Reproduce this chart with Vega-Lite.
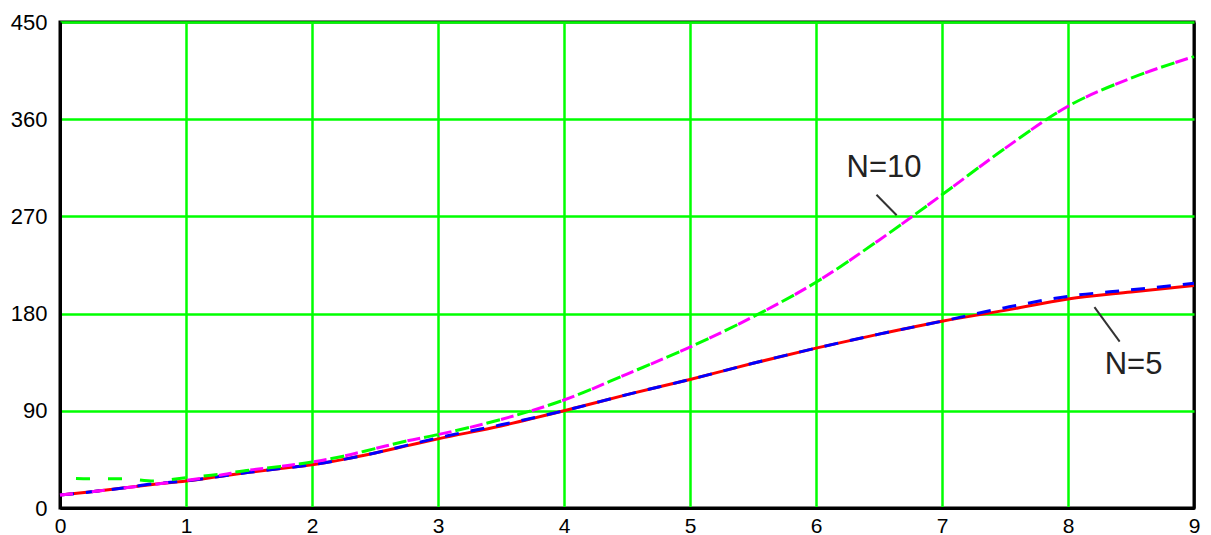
{
  "$schema": "https://vega.github.io/schema/vega-lite/v6.json",
  "width": 1134,
  "height": 486,
  "autosize": {"type": "none"},
  "padding": {"left": 60, "top": 22, "right": 17, "bottom": 27},
  "background": "white",
  "config": {"view": {"stroke": "black", "strokeWidth": 3}},
  "datasets": {
    "curves": [
      {"s": "red", "x": 0, "y": 12}, {"s": "red", "x": 0.25, "y": 15}, {"s": "red", "x": 0.5, "y": 18.5}, {"s": "red", "x": 0.75, "y": 22},
      {"s": "red", "x": 1, "y": 25}, {"s": "red", "x": 1.25, "y": 29}, {"s": "red", "x": 1.5, "y": 33}, {"s": "red", "x": 1.75, "y": 36.5},
      {"s": "red", "x": 2, "y": 40}, {"s": "red", "x": 2.25, "y": 45}, {"s": "red", "x": 2.5, "y": 51}, {"s": "red", "x": 2.75, "y": 57.5},
      {"s": "red", "x": 3, "y": 64}, {"s": "red", "x": 3.5, "y": 76}, {"s": "red", "x": 4, "y": 90},
      {"s": "red", "x": 4.5, "y": 105}, {"s": "red", "x": 5, "y": 119}, {"s": "red", "x": 5.5, "y": 134}, {"s": "red", "x": 6, "y": 148},
      {"s": "red", "x": 6.5, "y": 161}, {"s": "red", "x": 7, "y": 173}, {"s": "red", "x": 7.5, "y": 183}, {"s": "red", "x": 8, "y": 193.5},
      {"s": "red", "x": 8.5, "y": 200}, {"s": "red", "x": 9, "y": 206},
      {"s": "blue", "x": 0, "y": 12}, {"s": "blue", "x": 0.25, "y": 15}, {"s": "blue", "x": 0.5, "y": 18.5}, {"s": "blue", "x": 0.75, "y": 22.5},
      {"s": "blue", "x": 1, "y": 25}, {"s": "blue", "x": 1.25, "y": 29}, {"s": "blue", "x": 1.5, "y": 33}, {"s": "blue", "x": 1.75, "y": 36.5},
      {"s": "blue", "x": 2, "y": 40}, {"s": "blue", "x": 2.25, "y": 45}, {"s": "blue", "x": 2.5, "y": 51}, {"s": "blue", "x": 2.75, "y": 58},
      {"s": "blue", "x": 3, "y": 65}, {"s": "blue", "x": 3.5, "y": 77}, {"s": "blue", "x": 4, "y": 90},
      {"s": "blue", "x": 4.5, "y": 105}, {"s": "blue", "x": 5, "y": 119}, {"s": "blue", "x": 5.5, "y": 134}, {"s": "blue", "x": 6, "y": 148},
      {"s": "blue", "x": 6.5, "y": 161}, {"s": "blue", "x": 7, "y": 173}, {"s": "blue", "x": 7.5, "y": 185.5}, {"s": "blue", "x": 8, "y": 196},
      {"s": "blue", "x": 8.5, "y": 202}, {"s": "blue", "x": 9, "y": 208},
      {"s": "green", "x": 0, "y": 28}, {"s": "green", "x": 0.25, "y": 27}, {"s": "green", "x": 0.5, "y": 27}, {"s": "green", "x": 0.75, "y": 25},
      {"s": "green", "x": 1, "y": 28}, {"s": "green", "x": 1.25, "y": 31}, {"s": "green", "x": 1.5, "y": 35}, {"s": "green", "x": 1.75, "y": 38.5},
      {"s": "green", "x": 2, "y": 42.5}, {"s": "green", "x": 2.25, "y": 48}, {"s": "green", "x": 2.5, "y": 55}, {"s": "green", "x": 2.75, "y": 62},
      {"s": "green", "x": 3, "y": 68}, {"s": "green", "x": 3.5, "y": 82}, {"s": "green", "x": 4, "y": 100},
      {"s": "green", "x": 4.5, "y": 124}, {"s": "green", "x": 5, "y": 149}, {"s": "green", "x": 5.5, "y": 177}, {"s": "green", "x": 6, "y": 209},
      {"s": "green", "x": 6.5, "y": 248}, {"s": "green", "x": 7, "y": 290}, {"s": "green", "x": 7.5, "y": 333}, {"s": "green", "x": 8, "y": 372},
      {"s": "green", "x": 8.5, "y": 398}, {"s": "green", "x": 9, "y": 418},
      {"s": "magenta", "x": 0, "y": 12}, {"s": "magenta", "x": 0.25, "y": 15}, {"s": "magenta", "x": 0.5, "y": 18.5}, {"s": "magenta", "x": 0.75, "y": 22},
      {"s": "magenta", "x": 1, "y": 25.5}, {"s": "magenta", "x": 1.25, "y": 30}, {"s": "magenta", "x": 1.5, "y": 35}, {"s": "magenta", "x": 1.75, "y": 38.5},
      {"s": "magenta", "x": 2, "y": 42.5}, {"s": "magenta", "x": 2.25, "y": 48}, {"s": "magenta", "x": 2.5, "y": 55}, {"s": "magenta", "x": 2.75, "y": 62},
      {"s": "magenta", "x": 3, "y": 68}, {"s": "magenta", "x": 3.5, "y": 82}, {"s": "magenta", "x": 4, "y": 100},
      {"s": "magenta", "x": 4.5, "y": 124}, {"s": "magenta", "x": 5, "y": 149}, {"s": "magenta", "x": 5.5, "y": 177}, {"s": "magenta", "x": 6, "y": 209},
      {"s": "magenta", "x": 6.5, "y": 248}, {"s": "magenta", "x": 7, "y": 290}, {"s": "magenta", "x": 7.5, "y": 333}, {"s": "magenta", "x": 8, "y": 372},
      {"s": "magenta", "x": 8.5, "y": 398}, {"s": "magenta", "x": 9, "y": 418}
    ],
    "labels": [
      {"x": 6.54, "y": 315, "label": "N=10"},
      {"x": 8.52, "y": 132, "label": "N=5"}
    ],
    "leaders": [
      {"x": 6.48, "y": 290, "x2": 6.64, "y2": 271},
      {"x": 8.21, "y": 186, "x2": 8.41, "y2": 154}
    ]
  },
  "encoding": {
    "x": {
      "field": "x", "type": "quantitative",
      "scale": {"domain": [0, 9], "nice": false, "zero": false},
      "axis": {
        "values": [0, 1, 2, 3, 4, 5, 6, 7, 8, 9],
        "title": null, "grid": true,
        "gridColor": {"condition": {"test": "datum.value == 0 || datum.value == 9", "value": "black"}, "value": "#00ff00"},
        "gridWidth": 2.5, "gridOpacity": 1,
        "domainColor": "black", "domainWidth": 3,
        "ticks": false, "labelPadding": 7, "labelFlush": false, "labelAngle": 0,
        "labelFont": "Liberation Sans", "labelFontSize": 21, "labelColor": "black"
      }
    },
    "y": {
      "field": "y", "type": "quantitative",
      "scale": {"domain": [0, 450], "nice": false, "zero": false},
      "axis": {
        "values": [0, 90, 180, 270, 360, 450],
        "title": null, "grid": true,
        "gridColor": {"condition": {"test": "datum.value == 0", "value": "black"}, "value": "#00ff00"},
        "gridWidth": 2.5, "gridOpacity": 1,
        "domainColor": "black", "domainWidth": 3,
        "ticks": false, "labelPadding": 13, "labelFlush": false,
        "labelFont": "Liberation Sans", "labelFontSize": 22, "labelColor": "black"
      }
    }
  },
  "layer": [
    {
      "data": {"name": "curves"},
      "transform": [{"filter": "datum.s == 'red'"}],
      "mark": {"type": "line", "color": "#ff0000", "strokeWidth": 3, "interpolate": "monotone"}
    },
    {
      "data": {"name": "curves"},
      "transform": [{"filter": "datum.s == 'blue'"}],
      "mark": {"type": "line", "color": "#0000ff", "strokeWidth": 3, "interpolate": "monotone", "strokeDash": [14, 12]}
    },
    {
      "data": {"name": "curves"},
      "transform": [{"filter": "datum.s == 'green'"}],
      "mark": {"type": "line", "color": "#00ff00", "strokeWidth": 3, "interpolate": "monotone", "strokeDash": [14, 18], "strokeDashOffset": 16}
    },
    {
      "data": {"name": "curves"},
      "transform": [{"filter": "datum.s == 'magenta'"}],
      "mark": {"type": "line", "color": "#ff00ff", "strokeWidth": 3, "interpolate": "monotone", "strokeDash": [13, 19]}
    },
    {
      "data": {"name": "leaders"},
      "mark": {"type": "rule", "color": "#333333", "strokeWidth": 2},
      "encoding": {
        "x2": {"field": "x2"},
        "y2": {"field": "y2"}
      }
    },
    {
      "data": {"name": "labels"},
      "mark": {"type": "text", "font": "Liberation Sans", "fontSize": 31, "color": "#222222", "align": "center", "baseline": "middle"},
      "encoding": {"text": {"field": "label"}}
    }
  ]
}
